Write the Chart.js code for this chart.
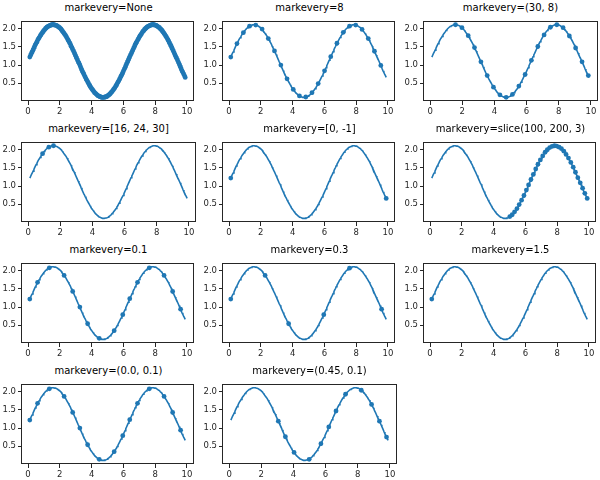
<!DOCTYPE html>
<html>
<head>
<meta charset="utf-8">
<script src="https://cdn.jsdelivr.net/npm/chart.js@4"></script>
<style>
  body { margin: 0; background: #fff; }
  #fig { position: relative; width: 600px; height: 480px; overflow: hidden; }
  .ttl { position: absolute; font: 10px "DejaVu Sans", sans-serif; color: #000; text-align: center; white-space: nowrap; }
  canvas { position: absolute; }
</style>
</head>
<body>
<div id="fig"></div>
<script>
// sample points of the curve
const xVals = [
  0.11,0.16,0.21,0.26,0.31,0.36,0.40,0.45,0.50,0.55,
  0.60,0.65,0.70,0.75,0.80,0.85,0.90,0.95,0.99,1.04,
  1.09,1.14,1.19,1.24,1.29,1.34,1.39,1.44,1.49,1.54,
  1.58,1.63,1.68,1.73,1.78,1.83,1.88,1.93,1.98,2.03,
  2.08,2.12,2.17,2.22,2.27,2.32,2.37,2.42,2.47,2.52,
  2.57,2.62,2.67,2.71,2.76,2.81,2.86,2.91,2.96,3.01,
  3.06,3.11,3.16,3.21,3.26,3.30,3.35,3.40,3.45,3.50,
  3.55,3.60,3.65,3.70,3.75,3.80,3.85,3.89,3.94,3.99,
  4.04,4.09,4.14,4.19,4.24,4.29,4.34,4.39,4.43,4.48,
  4.53,4.58,4.63,4.68,4.73,4.78,4.83,4.88,4.93,4.98,
  5.02,5.07,5.12,5.17,5.22,5.27,5.32,5.37,5.42,5.47,
  5.52,5.57,5.61,5.66,5.71,5.76,5.81,5.86,5.91,5.96,
  6.01,6.06,6.11,6.15,6.20,6.25,6.30,6.35,6.40,6.45,
  6.50,6.55,6.60,6.65,6.70,6.74,6.79,6.84,6.89,6.94,
  6.99,7.04,7.09,7.14,7.19,7.24,7.29,7.33,7.38,7.43,
  7.48,7.53,7.58,7.63,7.68,7.73,7.78,7.83,7.88,7.92,
  7.97,8.02,8.07,8.12,8.17,8.22,8.27,8.32,8.37,8.42,
  8.46,8.51,8.56,8.61,8.66,8.71,8.76,8.81,8.86,8.91,
  8.96,9.01,9.05,9.10,9.15,9.20,9.25,9.30,9.35,9.40,
  9.45,9.50,9.55,9.60,9.64,9.69,9.74,9.79,9.84,9.89
];
const yVals = [
  1.22,1.27,1.32,1.36,1.41,1.46,1.50,1.55,1.59,1.63,
  1.68,1.72,1.75,1.79,1.83,1.86,1.89,1.92,1.95,1.97,
  2.00,2.02,2.04,2.06,2.07,2.08,2.09,2.10,2.11,2.11,
  2.11,2.11,2.10,2.10,2.09,2.08,2.06,2.05,2.03,2.01,
  1.99,1.96,1.93,1.90,1.87,1.84,1.81,1.77,1.73,1.69,
  1.65,1.61,1.57,1.52,1.48,1.43,1.39,1.34,1.29,1.24,
  1.19,1.14,1.09,1.05,1.00,0.95,0.90,0.85,0.80,0.76,
  0.71,0.67,0.62,0.58,0.54,0.50,0.46,0.43,0.39,0.36,
  0.33,0.30,0.27,0.24,0.22,0.20,0.18,0.16,0.15,0.14,
  0.13,0.12,0.11,0.11,0.11,0.11,0.12,0.12,0.13,0.14,
  0.16,0.17,0.19,0.21,0.24,0.26,0.29,0.32,0.35,0.38,
  0.42,0.45,0.49,0.53,0.57,0.61,0.66,0.70,0.74,0.79,
  0.84,0.89,0.93,0.98,1.03,1.08,1.13,1.18,1.23,1.28,
  1.32,1.37,1.42,1.47,1.51,1.56,1.60,1.64,1.68,1.72,
  1.76,1.80,1.83,1.86,1.90,1.93,1.95,1.98,2.00,2.02,
  2.04,2.06,2.07,2.08,2.09,2.10,2.11,2.11,2.11,2.11,
  2.10,2.10,2.09,2.07,2.06,2.04,2.03,2.00,1.98,1.96,
  1.93,1.90,1.87,1.84,1.80,1.77,1.73,1.69,1.65,1.60,
  1.56,1.52,1.47,1.43,1.38,1.33,1.28,1.23,1.19,1.14,
  1.09,1.04,0.99,0.94,0.89,0.84,0.80,0.75,0.71,0.66
];

const titles = [
  'markevery=None', 'markevery=8', 'markevery=(30, 8)',
  'markevery=[16, 24, 30]', 'markevery=[0, -1]', 'markevery=slice(100, 200, 3)',
  'markevery=0.1', 'markevery=0.3', 'markevery=1.5',
  'markevery=(0.0, 0.1)', 'markevery=(0.45, 0.1)'
];

// indices of the points that carry a marker (null = every point)
const marks = [
  null,
  [0,8,16,24,32,40,48,56,64,72,80,88,96,104,112,120,128,136,144,152,160,168,176,184,192],
  [30,38,46,54,62,70,78,86,94,102,110,118,126,134,142,150,158,166,174,182,190,198],
  [16,24,30],
  [0,199],
  [100,103,106,109,112,115,118,121,124,127,130,133,136,139,142,145,148,151,154,157,160,163,166,169,172,175,178,181,184,187,190,193,196,199],
  [0,10,25,44,55,64,74,89,108,119,128,138,153,172,183,193],
  [0,44,74,119,152,193],
  [0],
  [0,10,25,44,55,64,74,89,108,119,128,138,153,172,183,193],
  [60,69,80,99,114,124,133,145,165,178,188,197]
];

const xTicks = [0, 2, 4, 6, 8, 10];
const yTicks = [0.5, 1.0, 1.5, 2.0];

// axes boxes on the figure
const colLeft = [22, 223, 424];
const rowTop = [16, 137, 258, 379];
const axW = 173, axH = 85;
const padL = 32, padB = 18, padT = 2, padR = 2;

const BLUE = '#1f77b4';
const INK = '#262626';
const FONT = '"DejaVu Sans", sans-serif';

const frame = {
  id: 'frame',
  afterDraw(chart) {
    const a = chart.chartArea, c = chart.ctx;
    c.save();
    c.strokeStyle = INK;
    c.lineWidth = 1;
    c.strokeRect(Math.round(a.left) - 0.5, Math.round(a.top) + 0.5,
                 Math.round(a.right - a.left) + 1, Math.round(a.bottom - a.top) - 1);
    c.restore();
  }
};

const fig = document.getElementById('fig');
const pts = xVals.map((x, i) => ({ x: x, y: yVals[i] }));

titles.forEach((t, k) => {
  const L = colLeft[k % 3], T = rowTop[Math.floor(k / 3)];

  const ttl = document.createElement('div');
  ttl.className = 'ttl';
  ttl.style.left = (L - 20) + 'px';
  ttl.style.width = (axW + 40) + 'px';
  ttl.style.top = (T - 14) + 'px';
  ttl.textContent = t;
  fig.appendChild(ttl);

  const cv = document.createElement('canvas');
  cv.width = axW + padL + padR;
  cv.height = axH + padT + padB;
  cv.style.left = (L - padL) + 'px';
  cv.style.top = (T - padT) + 'px';
  cv.style.width = cv.width + 'px';
  cv.style.height = cv.height + 'px';
  fig.appendChild(cv);

  const mk = marks[k];
  new Chart(cv, {
    type: 'line',
    data: {
      datasets: [{
        data: pts,
        borderColor: BLUE,
        borderWidth: 1.6,
        backgroundColor: BLUE,
        pointBackgroundColor: BLUE,
        pointBorderWidth: 0,
        pointRadius: ctx => (mk === null || mk.includes(ctx.dataIndex)) ? 2.4 : 0,
        tension: 0,
        fill: false
      }]
    },
    options: {
      responsive: false,
      animation: false,
      events: [],
      layout: { padding: { top: padT, right: padR, left: 0, bottom: 0 } },
      plugins: { legend: { display: false }, tooltip: { enabled: false }, title: { display: false } },
      scales: {
        x: {
          type: 'linear', min: -0.38, max: 10.38,
          afterBuildTicks: s => { s.ticks = xTicks.map(v => ({ value: v })); },
          afterFit: s => { s.height = padB; },
          ticks: { font: { family: FONT, size: 8.5 }, color: INK, padding: 2, maxRotation: 0, autoSkip: false },
          grid: { drawOnChartArea: false, drawTicks: true, tickLength: 4, color: INK },
          border: { display: false }
        },
        y: {
          type: 'linear', min: 0.01, max: 2.21,
          afterBuildTicks: s => { s.ticks = yTicks.map(v => ({ value: v })); },
          afterFit: s => { s.width = padL; },
          ticks: { font: { family: FONT, size: 8.5 }, color: INK, padding: 2, autoSkip: false,
                   callback: v => v.toFixed(1) },
          grid: { drawOnChartArea: false, drawTicks: true, tickLength: 4, color: INK },
          border: { display: false }
        }
      }
    },
    plugins: [frame]
  });
});
</script>
</body>
</html>
